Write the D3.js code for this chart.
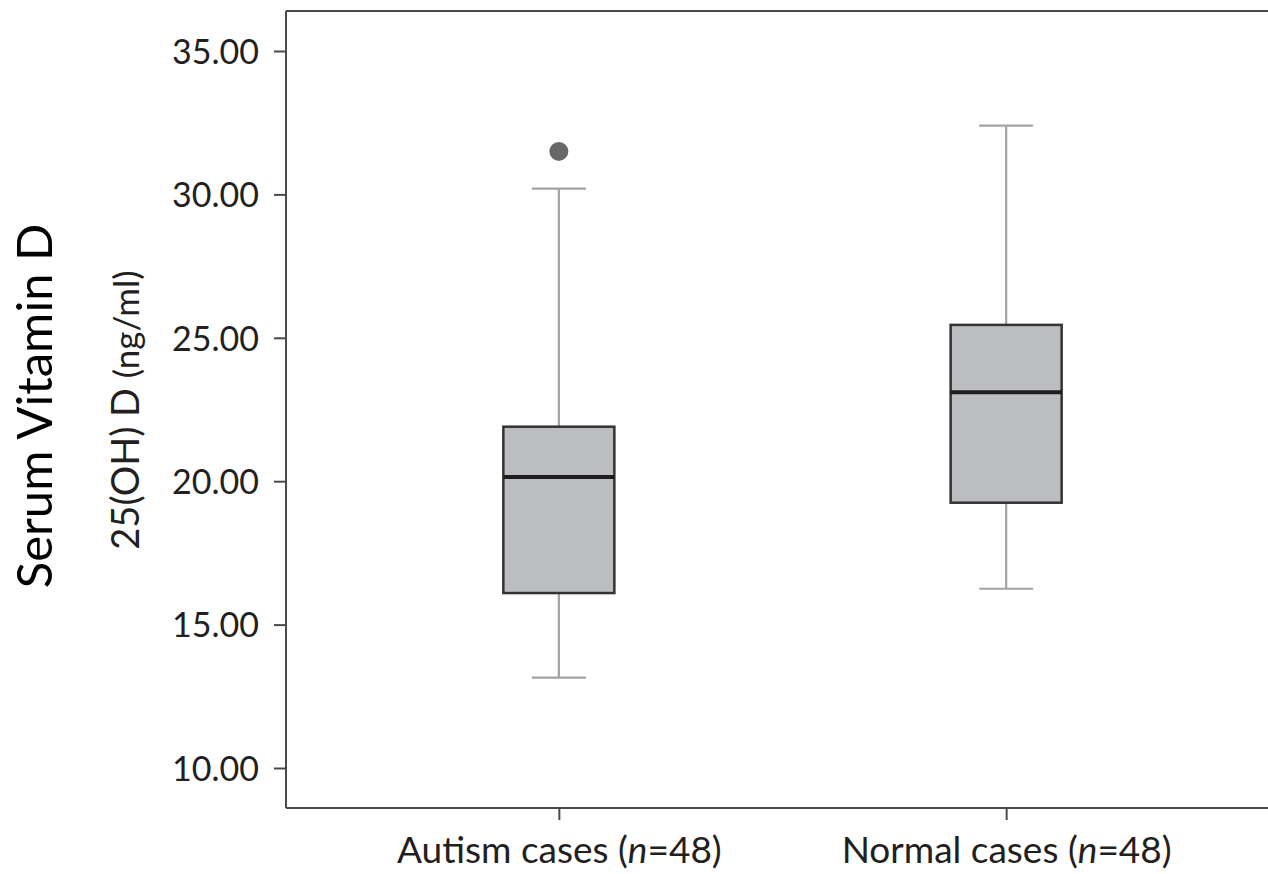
<!DOCTYPE html>
<html>
<head>
<meta charset="utf-8">
<script src="https://cdn.jsdelivr.net/npm/d3@7"></script>
<style>
  html, body { margin: 0; padding: 0; background: #fff; }
  svg { display: block; }
</style>
</head>
<body>
<svg id="chart" width="1268" height="874"></svg>
<script>
// ---- data ----
const categories = ["Autism cases", "Normal cases"];
const sampleSizes = [48, 48];
const whiskerLow = [13.15, 16.25];
const q1 = [16.1, 19.25];
const medians = [20.15, 23.1];
const q3 = [21.9, 25.45];
const whiskerHigh = [30.2, 32.4];
const outliers = [{ group: "Autism cases", value: 31.5 }];
const yTicks = [10, 15, 20, 25, 30, 35];
const yTitleOuter = "Serum Vitamin D";
const yTitleInnerMain = "25(OH) D ";
const yTitleInnerUnit = "(ng/ml)";

// ---- layout ----
const svg = d3.select("#chart");
const plotLeft = 286, plotTop = 11, plotBottom = 808, plotRight = 1279;

const y = d3.scaleLinear().domain([10, 35]).range([768, 51]);
const x = d3.scalePoint().domain(categories).range([plotLeft, plotRight]).padding(0.61);

const axisColor = "#4a4a4a";
const textColor = "#231f20";

// frame: top line
svg.append("line")
  .attr("x1", plotLeft).attr("x2", 1268)
  .attr("y1", plotTop).attr("y2", plotTop)
  .attr("stroke", axisColor).attr("stroke-width", 2);

// y axis
const yAxis = svg.append("g")
  .attr("transform", `translate(${plotLeft},0)`)
  .call(d3.axisLeft(y).tickValues(yTicks).tickSize(12).tickPadding(15)
        .tickFormat(d3.format(".2f")));
yAxis.select(".domain").remove();
yAxis.append("line")
  .attr("x1", 0).attr("x2", 0).attr("y1", plotTop).attr("y2", plotBottom)
  .attr("stroke", axisColor).attr("stroke-width", 2);
yAxis.selectAll(".tick line").attr("stroke", axisColor).attr("stroke-width", 2);
yAxis.selectAll(".tick text")
  .attr("fill", textColor)
  .style("font-family", "Lato, 'Open Sans', sans-serif")
  .style("font-size", "34px")
  .attr("dy", "0.36em");

// x axis
const xAxis = svg.append("g")
  .attr("transform", `translate(0,${plotBottom})`)
  .call(d3.axisBottom(x).tickSize(12).tickPadding(18).tickFormat(() => ""));
xAxis.select(".domain").remove();
xAxis.append("line")
  .attr("x1", plotLeft).attr("x2", 1268).attr("y1", 0).attr("y2", 0)
  .attr("stroke", axisColor).attr("stroke-width", 2);
xAxis.selectAll(".tick line").attr("stroke", axisColor).attr("stroke-width", 2);
xAxis.selectAll(".tick").each(function(d, i) {
  const t = d3.select(this).append("text")
    .attr("y", 55)
    .attr("text-anchor", "middle")
    .attr("fill", textColor)
    .style("font-family", "Lato, 'Open Sans', sans-serif")
    .style("font-size", "37px");
  t.append("tspan").text(d + " (");
  t.append("tspan").attr("font-style", "italic").text("n");
  t.append("tspan").text("=" + sampleSizes[i] + ")");
});

// boxes
const boxW = 111, capW = 54;
const g = svg.append("g");
categories.forEach((c, i) => {
  const cx = x(c);
  // whiskers
  g.append("line").attr("x1", cx).attr("x2", cx)
    .attr("y1", y(whiskerHigh[i])).attr("y2", y(q3[i]))
    .attr("stroke", "#a3a3a3").attr("stroke-width", 2.2);
  g.append("line").attr("x1", cx).attr("x2", cx)
    .attr("y1", y(q1[i])).attr("y2", y(whiskerLow[i]))
    .attr("stroke", "#a3a3a3").attr("stroke-width", 2.2);
  g.append("line").attr("x1", cx - capW / 2).attr("x2", cx + capW / 2)
    .attr("y1", y(whiskerHigh[i])).attr("y2", y(whiskerHigh[i]))
    .attr("stroke", "#a3a3a3").attr("stroke-width", 2.2);
  g.append("line").attr("x1", cx - capW / 2).attr("x2", cx + capW / 2)
    .attr("y1", y(whiskerLow[i])).attr("y2", y(whiskerLow[i]))
    .attr("stroke", "#a3a3a3").attr("stroke-width", 2.2);
  // box
  g.append("rect")
    .attr("x", cx - boxW / 2).attr("width", boxW)
    .attr("y", y(q3[i])).attr("height", y(q1[i]) - y(q3[i]))
    .attr("fill", "#bcbdc1").attr("stroke", "#333").attr("stroke-width", 2.5);
  // median
  g.append("line").attr("x1", cx - boxW / 2).attr("x2", cx + boxW / 2)
    .attr("y1", y(medians[i])).attr("y2", y(medians[i]))
    .attr("stroke", "#1e1e1e").attr("stroke-width", 4);
});

// outliers
g.selectAll("circle.out").data(outliers).enter().append("circle")
  .attr("class", "out")
  .attr("cx", d => x(d.group)).attr("cy", d => y(d.value))
  .attr("r", 9.5).attr("fill", "#686868");

// y titles
svg.append("text")
  .attr("transform", `translate(52,406) rotate(-90)`)
  .attr("text-anchor", "middle")
  .attr("fill", "#000")
  .style("font-family", "Lato, 'Open Sans', sans-serif")
  .style("font-size", "49px")
  .text(yTitleOuter);
const inner = svg.append("text")
  .attr("transform", `translate(139,410) rotate(-90)`)
  .attr("text-anchor", "middle")
  .attr("fill", textColor)
  .style("font-family", "Lato, 'Open Sans', sans-serif")
  .style("font-size", "38px");
inner.append("tspan").text(yTitleInnerMain);
inner.append("tspan").style("font-size", "35px").text(yTitleInnerUnit);
</script>
</body>
</html>
